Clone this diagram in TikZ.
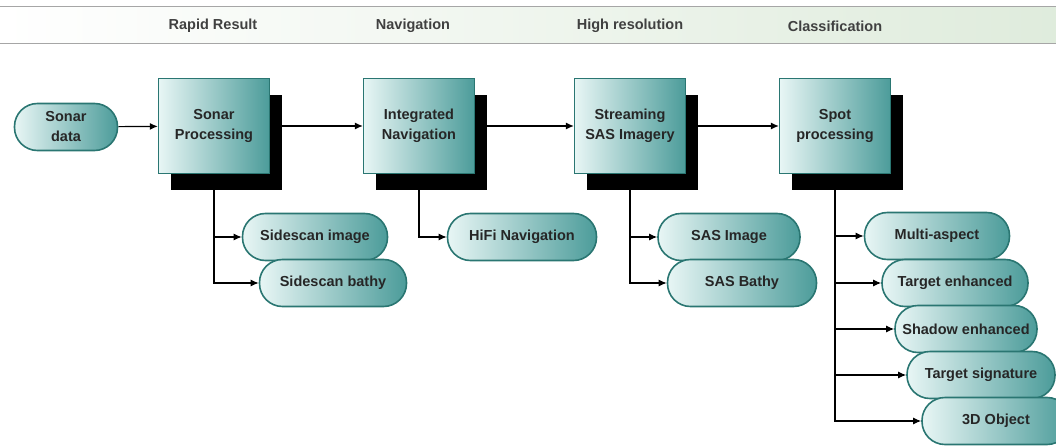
\documentclass[tikz,border=0pt]{standalone}
\usepackage{fontspec}
\setmainfont{Liberation Sans}
\usetikzlibrary{shadows,backgrounds,arrows.meta}
\definecolor{vienxanh}{RGB}{42,118,114}
\definecolor{xanhdam}{RGB}{76,156,154}
\definecolor{xanhnhat}{RGB}{232,246,245}
\definecolor{dailuc}{RGB}{184,212,178}
\begin{document}
\begin{tikzpicture}[x=1pt,y=-1pt,
		khoi/.style={draw=vienxanh, line width=1.3pt, left color=xanhnhat, right color=xanhdam,
			minimum width=111pt, minimum height=95pt, inner sep=0pt, align=center, text=black!85,
			font=\bfseries\fontsize{14.5}{20}\selectfont,
			drop shadow={shadow xshift=12pt, shadow yshift=-17pt, fill=black, opacity=1}},
		nhan/.style={draw=vienxanh, line width=1.6pt, left color=xanhnhat, right color=xanhdam,
			rounded corners=23pt, minimum height=47pt, inner sep=0pt, align=center, text=black!85,
			font=\bfseries\fontsize{14.5}{20}\selectfont},
		mui/.style={line width=1.2pt, -{Latex[length=8pt,width=7pt]}}]
				\def\hb{7} % mep tren cua dai
				\def\hd{44} % mep duoi cua dai
				\useasboundingbox (0,0) rectangle (1056,446);
				% dai tieu de
				\shade[left color=white, middle color=dailuc, right color=white!55!dailuc] (0,\hb) rectangle (1056,\hd);
				\draw[line width=1pt, gray!70] (0,\hb)--(1056,\hb);
				\draw[line width=1pt, gray!70] (0,\hd)--(1056,\hd);
				\node[font=\bfseries\fontsize{14.5}{18}\selectfont, text=black!75] (t1) at (213,26) {Rapid Result};
				\node[font=\bfseries\fontsize{14.5}{18}\selectfont, text=black!75] (t2) at (413,26) {Navigation};
				\node[font=\bfseries\fontsize{14.5}{18}\selectfont, text=black!75] (t3) at (630,26) {High resolution};
				\node[font=\bfseries\fontsize{14.5}{18}\selectfont, text=black!75] (t4) at (835,26) {Classification};
				% cac khoi chinh
				\node[nhan, minimum width=103pt] (sonar) at (66,127) {Sonar\\data};
				\node[khoi] (proc) at (214,126) {Sonar\\Processing};
				\node[khoi] (nav) at (419,126) {Integrated\\Navigation};
				\node[khoi] (sas) at (630,126) {Streaming\\SAS Imagery};
				\node[khoi] (spot) at (835,126) {Spot\\processing};
				% cac ket qua
				\node[nhan, minimum width=145pt] (sideimg) at (315,237) {Sidescan image};
				\node[nhan, minimum width=147pt] (sidebathy) at (333,283) {Sidescan bathy};
				\node[nhan, minimum width=149pt] (hifi) at (522,237) {HiFi Navigation};
				\node[nhan, minimum width=142pt] (sasimg) at (729,237) {SAS Image};
				\node[nhan, minimum width=149pt] (sasbathy) at (742,283) {SAS Bathy};
				\node[nhan, minimum width=145pt] (multi) at (937,236) {Multi-aspect};
				\node[nhan, minimum width=146pt] (tenh) at (955,283) {Target enhanced};
				\node[nhan, minimum width=142pt] (shenh) at (966,329) {Shadow enhanced};
				\node[nhan, minimum width=148pt] (tsig) at (981,375) {Target signature};
				\node[nhan, minimum width=148pt] (obj) at (996,421) {3D Object};
				% duong noi
				\begin{pgfonlayer}{background}
				\draw[mui] (sonar)--(proc);
				\draw[mui] (proc)--(nav);
				\draw[mui] (nav)--(sas);
				\draw[mui] (sas)--(spot);
				\draw[mui] (proc.south) |- (sidebathy.west);
				\draw[mui] (proc.south |- sideimg.west)--(sideimg.west);
				\draw[mui] (nav.south) |- (hifi.west);
				\draw[mui] (sas.south) |- (sasbathy.west);
				\draw[mui] (sas.south |- sasimg.west)--(sasimg.west);
				\draw[mui] (spot.south) |- (obj.west);
				\foreach \k in {multi,tenh,shenh,tsig}
					\draw[mui] (spot.south |- \k.west)--(\k.west);
				\end{pgfonlayer}
\end{tikzpicture}
\end{document}
